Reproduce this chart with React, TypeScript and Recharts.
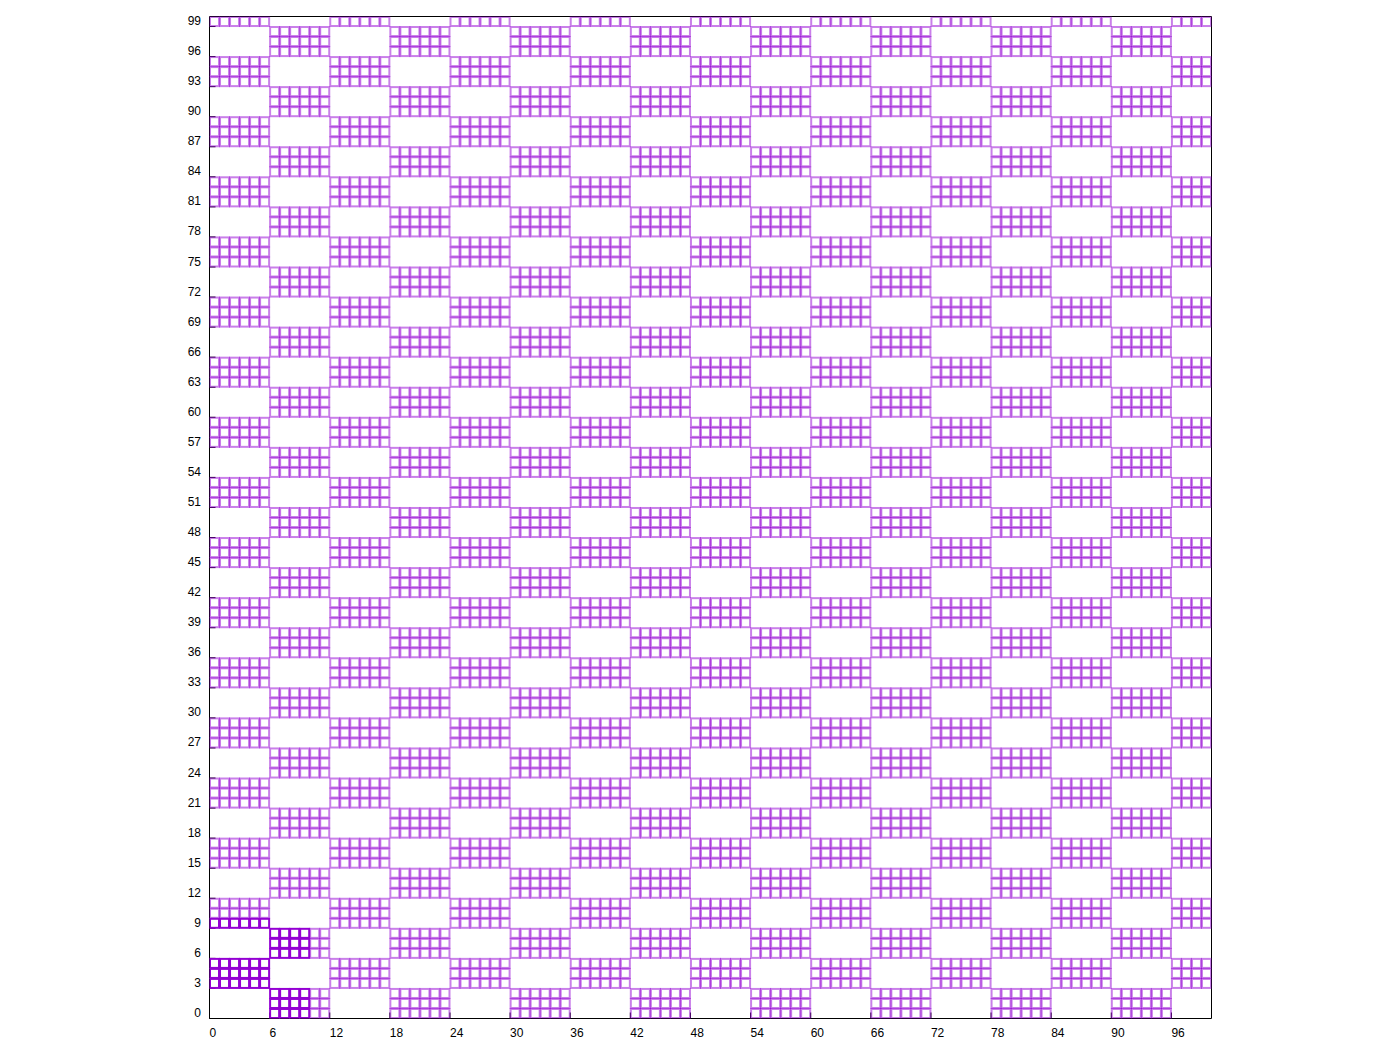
import { ScatterChart, Scatter, XAxis, YAxis } from "recharts";

// axis ticks
const X_TICKS = [0, 6, 12, 18, 24, 30, 36, 42, 48, 54, 60, 66, 72, 78, 84, 90, 96];
const Y_TICKS = [
  0, 3, 6, 9, 12, 15, 18, 21, 24, 27, 30, 33, 36, 39, 42, 45, 48, 51, 54, 57, 60, 63, 66, 69, 72, 75,
  78, 81, 84, 87, 90, 93, 96, 99,
];

// block layout: columns are 6 cells wide, rows 3 cells tall, clipped at the grid edge
const COL_STARTS = [0, 6, 12, 18, 24, 30, 36, 42, 48, 54, 60, 66, 72, 78, 84, 90, 96];
const ROW_STARTS = Y_TICKS;
const GRID_SIZE = 100;

// which blocks hold cells, bottom row first ("1" = filled)
const BLOCK_ROWS = [
  "01010101010101010",
  "10101010101010101",
  "01010101010101010",
  "10101010101010101",
  "01010101010101010",
  "10101010101010101",
  "01010101010101010",
  "10101010101010101",
  "01010101010101010",
  "10101010101010101",
  "01010101010101010",
  "10101010101010101",
  "01010101010101010",
  "10101010101010101",
  "01010101010101010",
  "10101010101010101",
  "01010101010101010",
  "10101010101010101",
  "01010101010101010",
  "10101010101010101",
  "01010101010101010",
  "10101010101010101",
  "01010101010101010",
  "10101010101010101",
  "01010101010101010",
  "10101010101010101",
  "01010101010101010",
  "10101010101010101",
  "01010101010101010",
  "10101010101010101",
  "01010101010101010",
  "10101010101010101",
  "01010101010101010",
  "10101010101010101",
];

// cells below this corner are drawn opaque
const SOLID_CORNER = 10;

const COLOR = "#9400d3";
const FONT = "'Liberation Sans', Arial, sans-serif";

// plot geometry
const PLOT_LEFT = 209.5;
const PLOT_TOP = 16.5;
const PLOT_SIZE = 1002;
const CHART_W = 1400;
const CHART_H = 1048;
const LEFT_AXIS_W = 60;
const RIGHT_AXIS_W = 10;
const TOP_AXIS_H = 10;
const BOTTOM_AXIS_H = 30;
const UNIT = PLOT_SIZE / GRID_SIZE;

type Cell = { x: number; y: number };

function buildCells() {
  const light: Cell[] = [];
  const solid: Cell[] = [];
  BLOCK_ROWS.forEach((row, r) => {
    const y0 = ROW_STARTS[r];
    const y1 = Math.min(ROW_STARTS[r + 1] ?? GRID_SIZE, GRID_SIZE);
    row.split("").forEach((flag, c) => {
      if (flag !== "1") return;
      const x0 = COL_STARTS[c];
      const x1 = Math.min(COL_STARTS[c + 1] ?? GRID_SIZE, GRID_SIZE);
      for (let y = y0; y < y1; y++) {
        for (let x = x0; x < x1; x++) {
          const cell = { x: x + 0.5, y: y + 0.5 };
          if (x < SOLID_CORNER && y < SOLID_CORNER) solid.push(cell);
          else light.push(cell);
        }
      }
    });
  });
  return { light, solid };
}

const { light, solid } = buildCells();

function cellShape(opacity: number) {
  const half = UNIT / 2 - 0.5;
  return (props: any) => (
    <rect
      x={props.cx - half}
      y={props.cy - half}
      width={half * 2}
      height={half * 2}
      fill="none"
      stroke={COLOR}
      strokeWidth={2}
      strokeOpacity={opacity}
    />
  );
}

function BottomTick(props: any) {
  const { x, y, payload } = props;
  return (
    <text x={x} y={y + 18.5} textAnchor="start" fontSize={12} fontFamily={FONT} fill="#000">
      {payload.value}
    </text>
  );
}

function LeftTick(props: any) {
  const { x, y, payload } = props;
  return (
    <text x={x - 8.5} y={y - 1.5} textAnchor="end" fontSize={12} fontFamily={FONT} fill="#000">
      {payload.value}
    </text>
  );
}

export default function App() {
  const margin = {
    top: PLOT_TOP - TOP_AXIS_H,
    left: PLOT_LEFT - LEFT_AXIS_W,
    right: CHART_W - PLOT_LEFT - PLOT_SIZE - RIGHT_AXIS_W,
    bottom: CHART_H - PLOT_TOP - PLOT_SIZE - BOTTOM_AXIS_H,
  };
  return (
    <div style={{ position: "absolute", left: 0, top: 0, background: "#fff" }}>
      <ScatterChart width={CHART_W} height={CHART_H} margin={margin}>
        <XAxis
          xAxisId="bottom"
          dataKey="x"
          type="number"
          domain={[0, GRID_SIZE]}
          ticks={X_TICKS}
          orientation="bottom"
          height={BOTTOM_AXIS_H}
          stroke="#000"
          tickSize={-6}
          tickMargin={6}
          tick={<BottomTick />}
          allowDataOverflow
        />
        <XAxis
          xAxisId="top"
          dataKey="x"
          type="number"
          domain={[0, GRID_SIZE]}
          ticks={X_TICKS}
          orientation="top"
          height={TOP_AXIS_H}
          stroke="#000"
          tickSize={-6}
          tick={false}
          allowDataOverflow
        />
        <YAxis
          yAxisId="left"
          dataKey="y"
          type="number"
          domain={[0, GRID_SIZE]}
          ticks={Y_TICKS}
          orientation="left"
          width={LEFT_AXIS_W}
          stroke="#000"
          tickSize={-6}
          tickMargin={6}
          tick={<LeftTick />}
          interval={0}
          allowDataOverflow
        />
        <YAxis
          yAxisId="right"
          dataKey="y"
          type="number"
          domain={[0, GRID_SIZE]}
          ticks={Y_TICKS}
          orientation="right"
          width={RIGHT_AXIS_W}
          stroke="#000"
          tickSize={-6}
          tick={false}
          interval={0}
          allowDataOverflow
        />
        <Scatter
          data={light}
          xAxisId="bottom"
          yAxisId="left"
          shape={cellShape(0.5)}
          isAnimationActive={false}
        />
        <Scatter
          data={solid}
          xAxisId="bottom"
          yAxisId="left"
          shape={cellShape(1)}
          isAnimationActive={false}
        />
        <Scatter data={[]} xAxisId="top" yAxisId="right" isAnimationActive={false} />
      </ScatterChart>
    </div>
  );
}
